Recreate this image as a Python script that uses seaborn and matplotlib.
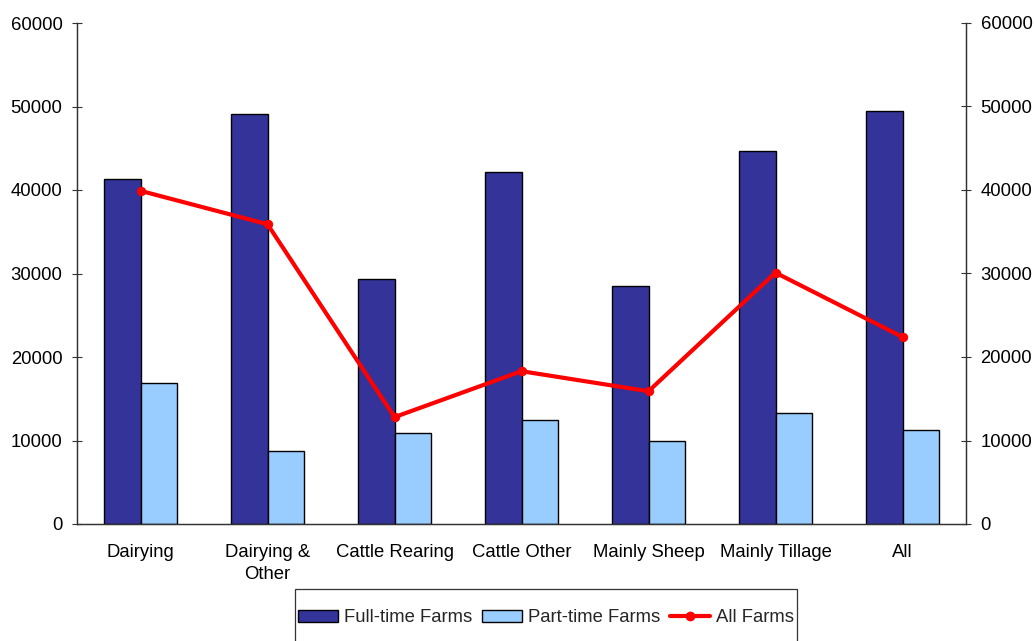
import matplotlib
matplotlib.use("Agg")
import matplotlib.pyplot as plt
import seaborn as sns
import pandas as pd
import numpy as np
from matplotlib.patches import Patch, Rectangle
from matplotlib.lines import Line2D

categories = ["Dairying", "Dairying &\nOther", "Cattle Rearing", "Cattle Other",
              "Mainly Sheep", "Mainly Tillage", "All"]
full_time = [41350, 49100, 29300, 42100, 28500, 44700, 49500]
part_time = [16900, 8800, 10850, 12400, 10000, 13300, 11300]
all_farms = [39900, 35900, 12800, 18300, 15900, 30100, 22400]
series_names = ["Full-time Farms", "Part-time Farms", "All Farms"]
y_ticks = [0, 10000, 20000, 30000, 40000, 50000, 60000]

sns.set_theme(style="white")
plt.rcParams['font.family'] = ['Liberation Sans', 'DejaVu Sans']
FS = 13.3
plt.rcParams['font.size'] = FS

colors = {"Full-time Farms": "#333399", "Part-time Farms": "#99CCFF"}

df = pd.DataFrame({
    "cat": categories * 2,
    "val": full_time + part_time,
    "series": [series_names[0]] * len(categories) + [series_names[1]] * len(categories),
})

W, H = 1034, 641
fig = plt.figure(figsize=(W / 100, H / 100), dpi=100)
ax = fig.add_axes([77 / W, 1 - 524 / H, (966 - 77) / W, (524 - 23) / H])

sns.barplot(data=df, x="cat", y="val", hue="series", palette=colors,
            width=0.58, gap=0, edgecolor="black", linewidth=1.0,
            saturation=1, legend=False, ax=ax, order=categories)

x_idx = np.arange(len(categories))
sns.lineplot(x=x_idx, y=np.array(all_farms), color="#FF0000", linewidth=3,
             marker="o", markersize=6, markeredgecolor="#FF0000", ax=ax, zorder=5)

ax.set_xlim(-0.5, len(categories) - 0.5)
ax.set_ylim(0, 60000)
ax.set_yticks(y_ticks)
ax.set_yticklabels([str(v) for v in y_ticks])
ax.set_xticks(x_idx)
ax.set_xticklabels(categories, fontsize=FS, linespacing=1.4)
ax.set_xticks(np.arange(-0.5, len(categories)), minor=True)
ax.set_xlabel("")
ax.set_ylabel("")
ax.tick_params(axis="x", which="major", length=0, pad=14.5, colors="black")
ax.tick_params(axis="x", which="minor", length=7, direction="inout", width=0.8, color="#333333")
ax.tick_params(axis="y", which="major", length=7, direction="inout", width=0.8,
               color="#333333", labelsize=FS, pad=7, left=True, labelcolor="black")

ax.spines["top"].set_visible(False)
for s in ["left", "right", "bottom"]:
    ax.spines[s].set_color("#333333")
    ax.spines[s].set_linewidth(0.9)

ax2 = ax.twinx()
ax2.set_ylim(0, 60000)
ax2.set_yticks(y_ticks)
ax2.set_yticklabels([str(v) for v in y_ticks])
ax2.tick_params(axis="y", length=7, direction="inout", width=0.8, color="#333333",
                labelsize=FS, pad=7, right=True, labelcolor="black")
ax2.spines["top"].set_visible(False)
for s in ["left", "right", "bottom"]:
    ax2.spines[s].set_color("#333333")
    ax2.spines[s].set_linewidth(0.9)
ax2.grid(False)
ax.grid(False)

# legend frame (box extends below the figure edge as in the reference)
frame = Rectangle((295 / W, -0.05), (797 - 295) / W, 0.05 + (1 - 589 / H),
                  transform=fig.transFigure, facecolor="white", edgecolor="#333333",
                  linewidth=0.9, zorder=1)
fig.patches.append(frame)

handles = [
    Patch(facecolor="#333399", edgecolor="black", linewidth=1.0),
    Patch(facecolor="#99CCFF", edgecolor="black", linewidth=1.0),
    Line2D([0], [0], color="#FF0000", linewidth=3, marker="o", markersize=6),
]
leg = fig.legend(handles, series_names, loc="center",
                 bbox_to_anchor=(546 / W, 1 - 618 / H), ncol=3, frameon=False,
                 fontsize=FS, handlelength=2.15, handleheight=0.55, handletextpad=0.32,
                 columnspacing=0.55, borderpad=0.2, borderaxespad=0)
leg.set_zorder(3)

fig.savefig("out.png", dpi=100, facecolor="white")
